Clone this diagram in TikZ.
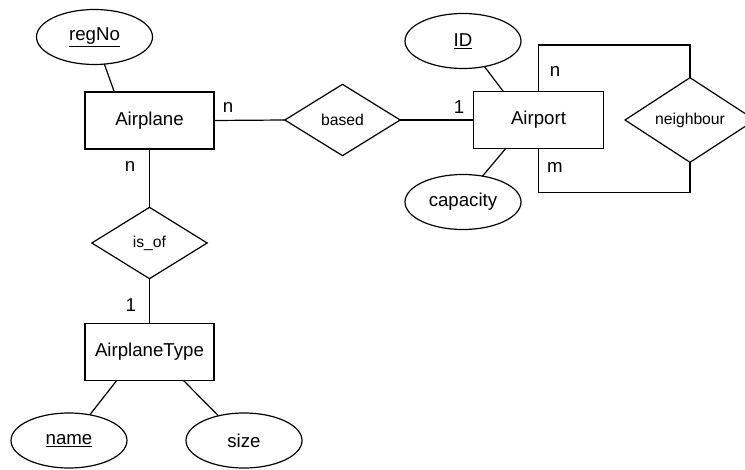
\documentclass[tikz,border=0pt]{standalone}
\usepackage{fontspec}
\setmainfont{Liberation Sans}
\usepackage{tikz}
\usetikzlibrary{shapes.geometric}

\begin{document}
\begin{tikzpicture}[x=0.75pt, y=-0.75pt, line width=0.9pt,
  every node/.style={outer sep=0pt, inner sep=0pt},
  entity/.style={draw, rectangle, minimum width=96.75pt, minimum height=42.75pt, font=\fontsize{14}{16}\selectfont},
  attr/.style={draw, ellipse, minimum width=87pt, minimum height=41.25pt, font=\fontsize{14}{16}\selectfont},
  rel/.style={draw, diamond, minimum width=86.5pt, minimum height=53.5pt, font=\fontsize{11.8}{14}\selectfont},
  card/.style={font=\fontsize{14}{16}\selectfont}]
\useasboundingbox (0,0) rectangle (745,470);

\node[entity] (airplane) at (149.5,120.5) {Airplane};
\node[entity, minimum width=97.5pt] (airport) at (538.5,120) {Airport};
\node[entity] (airplanetype) at (149.5,352) {AirplaneType};

\node[attr] (regNo) at (94.5,37) {\underline{regNo}};
\node[attr] (ID) at (463,41) {\underline{ID}};
\node[attr] (capacity) at (463,202) {capacity};
\node[attr] (name) at (69,440.5) {\underline{name}};
\node[attr] (size) at (244,440.5) {size};

\node[rel] (based) at (342.5,120) {based};
\node[rel] (isof) at (149.5,243) {is\_of};
\node[rel, minimum width=97.5pt, minimum height=60pt] (neighbour) at (690,120) {neighbour};

\draw (regNo.-70) -- (airplane.141);
\draw (ID.-50) -- (airport.141);
\draw (capacity.53) -- (airport.221);
\draw (name.51) -- (airplanetype.221);
\draw (size.136) -- (airplanetype.320);

\draw (airplane.east) -- (based.west);
\draw (based.east) -- (airport.west);
\draw (airplane.south) -- (isof.north);
\draw (isof.south) -- (airplanetype.north);
\draw (airport.north) -- ++(0,-46.5) -| (neighbour.north);
\draw (airport.south) -- ++(0,44.3) -| (neighbour.south);

\node[card] (c1) at (228,107) {n};
\node[card] (c2) at (459,107) {1};
\node[card] (c3) at (130,166) {n};
\node[card] (c4) at (130.7,305) {1};
\node[card] (c5) at (555,71) {n};
\node[card] (c6) at (555,167) {m};
\end{tikzpicture}
\end{document}
